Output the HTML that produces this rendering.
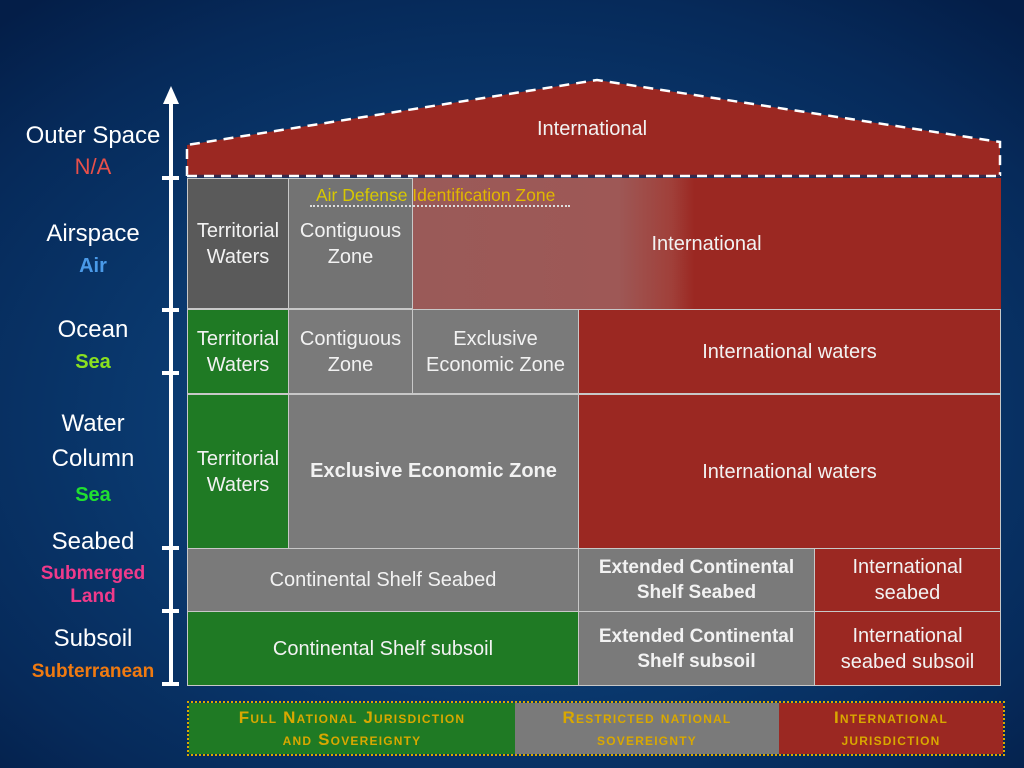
<!DOCTYPE html>
<html><head><meta charset="utf-8"><style>
*{margin:0;padding:0;box-sizing:border-box}
body{width:1024px;height:768px;overflow:hidden;position:relative;font-family:"Liberation Sans",sans-serif;
background:radial-gradient(ellipse 75% 70% at 50% 55%,#0e4a86 0%,#0a3a70 45%,#062a5a 80%,#041e48 100%);}
.c{position:absolute;display:flex;align-items:center;justify-content:center;text-align:center;color:#f2f2f2;font-size:20px;line-height:26px;border:1px solid #c8c8c8}
.r{background:#9b2822}.g{background:#1f7a24}.y{background:#7a7a7a}.d{background:#5a5a5a}
.b{font-weight:bold;font-size:19px;line-height:25px}
.l{position:absolute;text-align:center;width:186px;left:0;font-size:24px;color:#fff;line-height:31px}
.s{font-weight:bold;font-size:20px;line-height:24px}
.tick{position:absolute;left:162px;width:17px;height:4px;background:#fff}
.lg{position:absolute;top:703px;height:51px;display:flex;align-items:center;justify-content:center;text-align:center;color:#d9a800;font-family:"Liberation Sans",sans-serif;font-weight:bold;font-size:17px;letter-spacing:1.2px;line-height:22px;font-variant:small-caps}
</style></head><body>
<svg style="position:absolute;left:0;top:0" width="1024" height="768">
<polygon points="187,145 597,80 1000,142 1000,177 187,177" fill="#9b2822"/>
<polyline points="187,176 187,145 597,80 1000,142 1000,176" fill="none" stroke="#fff" stroke-width="2.5" stroke-dasharray="10,7"/>
<line x1="187" y1="176" x2="1000" y2="176" stroke="#3a2a4a" stroke-width="2.5"/>
<line x1="187" y1="176" x2="1000" y2="176" stroke="#fff" stroke-width="2.5" stroke-dasharray="10,7"/>
<line x1="171" y1="100" x2="171" y2="686" stroke="#fff" stroke-width="4"/>
<polygon points="171,86 163,104 179,104" fill="#fff"/>
<text x="592" y="135" fill="#f2f2f2" font-family="Liberation Sans" font-size="20" text-anchor="middle">International</text>
</svg>
<div class="tick" style="top:176px"></div>
<div class="tick" style="top:308px"></div>
<div class="tick" style="top:371px"></div>
<div class="tick" style="top:546px"></div>
<div class="tick" style="top:609px"></div>
<div class="tick" style="top:682px"></div>

<div class="l" style="top:120px">Outer Space<br><span style="color:#e8504a;font-size:22px">N/A</span></div>
<div class="l" style="top:218px">Airspace<br><span class="s" style="color:#4a9ae8">Air</span></div>
<div class="l" style="top:314px">Ocean<br><span class="s" style="color:#8ae020">Sea</span></div>
<div class="l" style="top:406px;line-height:35px">Water<br>Column<br><span class="s" style="color:#20e030">Sea</span></div>
<div class="l" style="top:526px">Seabed<div class="s" style="color:#f03a8a;font-size:19px;line-height:23px;margin-top:5px">Submerged<br>Land</div></div>
<div class="l" style="top:623px">Subsoil<br><span class="s" style="color:#f07a10;font-size:19px;line-height:22px">Subterranean</span></div>

<div class="c" style="left:412px;top:178px;width:589px;height:131px;border:none;background:linear-gradient(90deg,#9a5a58 0%,#9e5856 35%,#a0403a 44%,#9b2822 48%,#9b2822 100%)">International</div>
<div class="c d" style="left:187px;top:178px;width:102px;height:131px">Territorial<br>Waters</div>
<div class="c y" style="left:288px;top:178px;width:125px;height:131px;background:#737373">Contiguous<br>Zone</div>
<div style="position:absolute;left:316px;top:185px;color:#d8c800;font-size:17.5px;width:270px;white-space:nowrap">Air Defense <span style="color:#e0b800">Identification Zone</span></div>
<div style="position:absolute;left:310px;top:205px;width:260px;border-top:2px dotted #ddd"></div>

<div class="c g" style="left:187px;top:309px;width:102px;height:85px">Territorial<br>Waters</div>
<div class="c y" style="left:288px;top:309px;width:125px;height:85px">Contiguous<br>Zone</div>
<div class="c y" style="left:412px;top:309px;width:167px;height:85px">Exclusive<br>Economic Zone</div>
<div class="c r" style="left:578px;top:309px;width:423px;height:85px">International waters</div>

<div class="c g" style="left:187px;top:394px;width:102px;height:155px">Territorial<br>Waters</div>
<div class="c y b" style="left:288px;top:394px;width:291px;height:155px;font-size:20px">Exclusive Economic Zone</div>
<div class="c r" style="left:578px;top:394px;width:423px;height:155px">International waters</div>

<div class="c y" style="left:187px;top:548px;width:392px;height:64px">Continental Shelf Seabed</div>
<div class="c y b" style="left:578px;top:548px;width:237px;height:64px">Extended Continental<br>Shelf Seabed</div>
<div class="c r" style="left:814px;top:548px;width:187px;height:64px">International<br>seabed</div>

<div class="c g" style="left:187px;top:611px;width:392px;height:75px">Continental Shelf subsoil</div>
<div class="c y b" style="left:578px;top:611px;width:237px;height:75px">Extended Continental<br>Shelf subsoil</div>
<div class="c r" style="left:814px;top:611px;width:187px;height:75px">International<br>seabed subsoil</div>

<div style="position:absolute;left:187px;top:701px;width:818px;height:55px;border:2px dotted #d9a800"></div>
<div class="lg" style="left:189px;width:326px;background:#1f7a24">Full National Jurisdiction<br>and Sovereignty</div>
<div class="lg" style="left:515px;width:264px;background:#7a7a7a">Restricted national<br>sovereignty</div>
<div class="lg" style="left:779px;width:224px;background:#9b2822">International<br>jurisdiction</div>
</body></html>
